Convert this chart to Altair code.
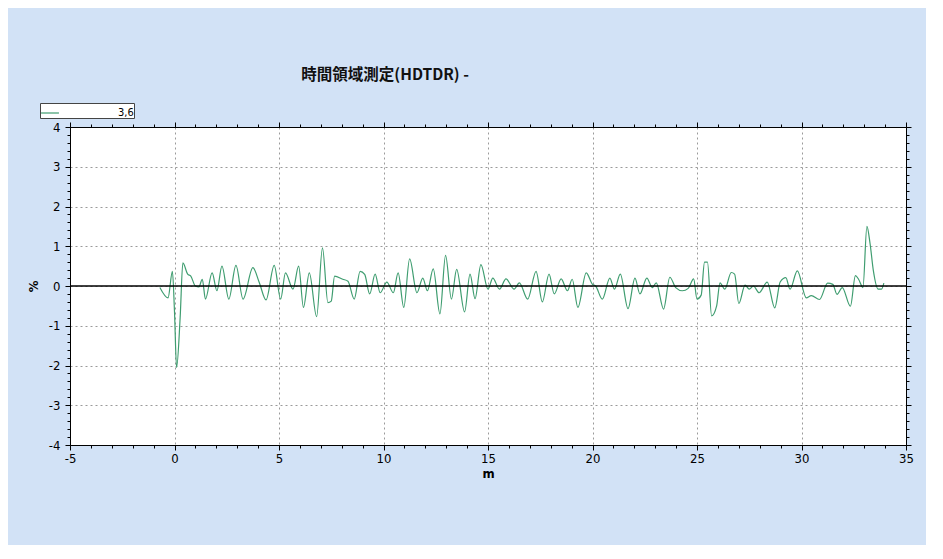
import altair as alt
import pandas as pd

# distance (m) and HDTDR response (%)
dist_m = [-0.7, -0.31, -0.1, 0.0, 0.1, 0.27, 0.4, 0.63, 0.78, 1.0, 1.17, 1.33, 1.48, 1.8, 2.03, 2.27, 2.6, 2.94,
          3.28, 3.75, 4.06, 4.38, 4.77, 5.08, 5.31, 5.67, 5.94, 6.17, 6.45, 6.8, 7.08, 7.34, 7.5, 7.66, 8.05,
          8.3, 8.6, 8.88, 9.1, 9.34, 9.6, 9.84, 10.16, 10.47, 10.7, 10.97, 11.25, 11.6, 11.88, 12.1, 12.38,
          12.7, 12.97, 13.25, 13.5, 13.88, 14.14, 14.38, 14.66, 15.0, 15.23, 15.55, 15.86, 16.25, 16.5, 16.9,
          17.3, 17.6, 17.92, 18.17, 18.5, 18.8, 19.03, 19.3, 19.7, 20.0, 20.15, 20.47, 20.83, 21.05, 21.33,
          21.7, 22.03, 22.27, 22.6, 22.86, 23.05, 23.4, 23.7, 23.98, 24.3, 24.58, 24.84, 25.0, 25.2, 25.36,
          25.5, 25.7, 25.94, 26.1, 26.33, 26.64, 26.8, 27.0, 27.3, 27.5, 27.7, 27.97, 28.36, 28.72, 28.98,
          29.25, 29.45, 29.8, 30.23, 30.47, 30.86, 31.25, 31.5, 31.7, 31.95, 32.34, 32.58, 32.73, 32.94,
          33.13, 33.28, 33.44, 33.67, 33.83, 33.94]
pct = [-0.04, -0.3, 0.37, -0.65, -2.05, -0.8, 0.58, 0.3, 0.25, 0.0, -0.02, 0.17, -0.33, 0.33, -0.12, 0.5, -0.33, 0.52,
       -0.33, 0.46, 0.08, -0.35, 0.52, -0.33, 0.33, -0.08, 0.5, -0.54, 0.33, -0.77, 0.96, -0.42, -0.38, 0.25, 0.17,
       0.12, -0.33, 0.37, 0.29, -0.2, 0.3, -0.17, 0.1, -0.17, 0.33, -0.54, 0.68, -0.17, 0.2, -0.12, 0.43,
       -0.7, 0.77, -0.33, 0.42, -0.65, 0.3, -0.32, 0.54, -0.08, 0.2, -0.08, 0.18, -0.08, 0.08, -0.33,
       0.37, -0.4, 0.3, -0.2, 0.18, -0.12, 0.17, -0.54, 0.33, 0.04, 0.0, -0.33, 0.2, -0.08, 0.3,
       -0.57, 0.2, -0.2, 0.2, -0.04, 0.08, -0.58, 0.22, -0.04, -0.12, -0.06, 0.18, -0.33, -0.23, 0.6,
       0.6, -0.75, -0.5, 0.08, -0.08, 0.34, 0.3, -0.44, 0.02, -0.08, 0.0, -0.17, 0.1, -0.55, 0.1,
       0.21, -0.08, 0.38, -0.3, -0.24, -0.34, 0.07, 0.04, -0.21, -0.04, -0.51, 0.26, 0.17, -0.04,
       1.5, 1.07, 0.38, -0.08, -0.08, 0.07]
series_name = "3,6"
title_text = "時間領域測定(HDTDR) -"
x_ticks = list(range(-5, 36))
y_ticks = [round(-4 + 0.2 * i, 1) for i in range(41)]
zero_level = [0]

assert len(dist_m) == len(pct)

df = pd.DataFrame({"m": dist_m, "pct": pct, "series": series_name})
zero_df = pd.DataFrame({"y": zero_level})

LABEL_FONT = "Liberation Sans Narrow, DejaVu Sans Condensed, Liberation Sans, sans-serif"
is_major_x = "datum.value % 5 === 0"
is_major_y = "abs(datum.value - round(datum.value)) < 0.001"

x_scale = alt.Scale(domain=[-5, 35], nice=False, zero=False)
y_scale = alt.Scale(domain=[-4, 4], nice=False, zero=False)

x_axis = alt.Axis(
    values=x_ticks, title="m", labelExpr=f"{is_major_x} ? '' + datum.value : ''",
    tickSize={"condition": {"test": is_major_x, "value": 5}, "value": 3},
    gridOpacity={"condition": {"test": is_major_x, "value": 1}, "value": 0},
    grid=True, gridDash=[2, 3], gridColor="#9a9a9a", labelFlush=False, labelOverlap=False,
    labelPadding=2, titlePadding=2,
)
y_axis = alt.Axis(
    values=y_ticks, title="%", labelExpr=f"{is_major_y} ? '' + round(datum.value) : ''",
    tickSize={"condition": {"test": is_major_y, "value": 5}, "value": 3},
    gridOpacity={"condition": {"test": is_major_y, "value": 1}, "value": 0},
    grid=True, gridDash=[2, 3], gridColor="#9a9a9a", labelFlush=False, labelOverlap=False,
    labelPadding=5, titlePadding=8,
)

line = alt.Chart(df).mark_line(strokeWidth=1.2, interpolate="monotone").encode(
    x=alt.X("m:Q", scale=x_scale, axis=x_axis),
    y=alt.Y("pct:Q", scale=y_scale, axis=y_axis),
    color=alt.Color(
        "series:N", scale=alt.Scale(range=["#3f9d70"]),
        legend=alt.Legend(
            title=None, orient="none", legendX=-30, legendY=-24, symbolType="stroke",
            symbolSize=320, symbolStrokeWidth=1.2, labelFontSize=11, labelOffset=58,
            fillColor="white", strokeColor="#444444", padding=0, rowPadding=0,
            labelFont=LABEL_FONT, labelBaseline="middle",
        ),
    ),
)

zero = alt.Chart(zero_df).mark_rule(color="black", strokeWidth=1.5).encode(
    y=alt.Y("y:Q", scale=y_scale,
            axis=alt.Axis(orient="right", values=y_ticks, labels=False, title=None, grid=False,
                          tickSize={"condition": {"test": is_major_y, "value": 5}, "value": 3})),
    x=alt.value(0), x2=alt.value(836),
)
top_axis = alt.Chart(zero_df).mark_point(opacity=0).encode(
    x=alt.X("y:Q", scale=x_scale,
            axis=alt.Axis(orient="top", values=x_ticks, labels=False, title=None, grid=False,
                          tickSize={"condition": {"test": is_major_x, "value": 5}, "value": 3})),
)

chart = alt.layer(line, zero, top_axis).resolve_axis(x="independent", y="independent").properties(
    width=836, height=318,
    title=alt.TitleParams(title_text, anchor="start", dx=274, offset=19, fontSize=15.5,
                          font="Noto Sans CJK JP", fontWeight="bold", color="#111111"),
    autosize=alt.AutoSizeParams(type="none"),
    padding={"left": 62, "top": 119, "right": 20, "bottom": 100},
    background="#d2e2f6",
).configure_view(
    fill="white", stroke="black", strokeWidth=1,
).configure_axis(
    domainColor="black", tickColor="black", labelColor="black", titleColor="black",
    labelFont=LABEL_FONT, labelFontSize=13, titleFont=LABEL_FONT, titleFontSize=13, titleFontWeight="bold",
)

chart.save("out.html", embed_options={"renderer": "svg", "actions": False})
